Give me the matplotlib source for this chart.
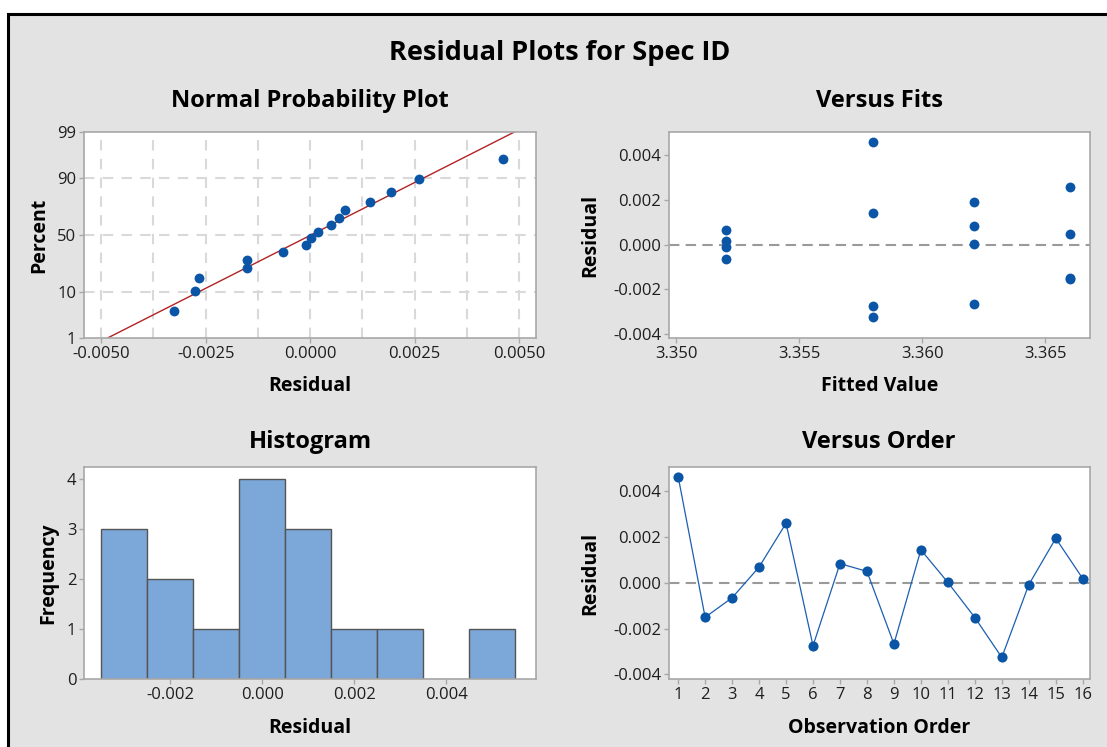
import matplotlib
matplotlib.use("Agg")
import matplotlib.pyplot as plt
from matplotlib.patches import Rectangle
from matplotlib.ticker import FormatStrFormatter
from statistics import NormalDist
import numpy as np

plt.rcParams['font.family'] = ['Open Sans', 'DejaVu Sans']
plt.rcParams['axes.unicode_minus'] = False

# residuals in observation order
residuals = [0.00462, -0.00151, -0.00066, 0.00068, 0.00259, -0.00275, 0.00083, 0.00049,
             -0.00267, 0.00143, 0.00001, -0.00152, -0.00326, -0.00009, 0.00193, 0.00018]
fitted = [3.3580, 3.3660, 3.3520, 3.3520, 3.3660, 3.3580, 3.3621, 3.3660,
          3.3621, 3.3580, 3.3621, 3.3660, 3.3580, 3.3520, 3.3621, 3.3520]
order = list(range(1, 17))
hist_edges = [-0.0035, -0.0025, -0.0015, -0.0005, 0.0005, 0.0015, 0.0025, 0.0035, 0.0045, 0.0055]
pct_ticks = [1, 10, 50, 90, 99]

W, H = 1107, 747
bg = '#e3e3e3'
dot = '#0a55a5'
spine_c = '#a8a8a8'

fig = plt.figure(figsize=(W / 100, H / 100), dpi=100, facecolor='white')
fig.patches.append(Rectangle((8 / W, -0.1), 1.2, 1.1 - 14 / H, transform=fig.transFigure,
                             facecolor=bg, edgecolor='black', linewidth=2.2, zorder=-10))


def box(l, t, r, b):
    return [l / W, 1 - b / H, (r - l) / W, (b - t) / H]


def style(ax):
    for s in ax.spines.values():
        s.set_color(spine_c)
        s.set_linewidth(1.2)
    ax.tick_params(colors=spine_c, labelcolor='#1e1e1e', labelsize=12, length=3.5, width=1, pad=2)


def ptitle(x, y, txt, size=17):
    fig.text(x / W, 1 - y / H, txt, ha='center', va='center', fontsize=size, fontweight='bold')


def labels(ax, xl, yl, xpad=8, ypad=8):
    ax.set_xlabel(xl, fontsize=14, fontweight='bold', labelpad=xpad)
    ax.set_ylabel(yl, fontsize=14, fontweight='bold', labelpad=ypad)


ptitle(560, 53, 'Residual Plots for Spec ID', 19.5)
ptitle(310, 101, 'Normal Probability Plot')
ptitle(879, 101, 'Versus Fits')
ptitle(310, 442, 'Histogram')
ptitle(879, 442, 'Versus Order')

nd = NormalDist()

# Normal probability plot
ax1 = fig.add_axes(box(84, 132, 536, 338))
style(ax1)
r = np.sort(np.array(residuals))
n = len(r)
zpts = [nd.inv_cdf((i - 0.3) / (n + 0.4)) for i in range(1, n + 1)]
mu, sd = np.mean(r), np.std(r, ddof=1)
zlo, zhi = nd.inv_cdf(0.01), nd.inv_cdf(0.99)
for gx in np.arange(-0.005, 0.00501, 0.00125):
    ax1.axvline(gx, color='#d9d9d9', ls=(0, (5, 4)), lw=1.5, zorder=0)
for p in [10, 50, 90]:
    ax1.axhline(nd.inv_cdf(p / 100), color='#d9d9d9', ls=(0, (5, 4)), lw=1.5, zorder=0)
ax1.plot([mu + sd * zlo, mu + sd * zhi], [zlo, zhi], color='#b22222', lw=1)
ax1.scatter(r, zpts, s=50, color=dot, zorder=3, linewidths=0)
ax1.set_ylim(zlo, zhi)
ax1.set_xlim(-0.00541, 0.0054)
ax1.set_yticks([nd.inv_cdf(p / 100) for p in pct_ticks])
ax1.set_yticklabels([str(p) for p in pct_ticks])
ax1.set_xticks([-0.005, -0.0025, 0, 0.0025, 0.005])
ax1.xaxis.set_major_formatter(FormatStrFormatter('%.4f'))
labels(ax1, 'Residual', 'Percent', 10, 6)

# Versus fits
ax2 = fig.add_axes(box(669, 132, 1090, 338))
style(ax2)
ax2.axhline(0, color='#9a9a9a', ls=(0, (5, 3)), lw=1.5, zorder=1)
ax2.scatter(fitted, residuals, s=50, color=dot, zorder=3, linewidths=0)
ax2.set_xlim(3.3497, 3.36683)
ax2.set_ylim(-0.00418, 0.00505)
ax2.set_xticks([3.350, 3.355, 3.360, 3.365])
ax2.set_yticks([-0.004, -0.002, 0, 0.002, 0.004])
ax2.xaxis.set_major_formatter(FormatStrFormatter('%.3f'))
ax2.yaxis.set_major_formatter(FormatStrFormatter('%.3f'))
labels(ax2, 'Fitted Value', 'Residual', 10, 9)

# Histogram
ax3 = fig.add_axes(box(84, 467, 536, 679))
style(ax3)
ax3.hist(residuals, bins=hist_edges, color='#7ba7d9', edgecolor='#555555', linewidth=1, zorder=2)
ax3.set_xlim(-0.00388, 0.00595)
ax3.set_ylim(0, 4.23)
ax3.set_yticks([0, 1, 2, 3, 4])
ax3.set_xticks([-0.002, 0, 0.002, 0.004])
ax3.xaxis.set_major_formatter(FormatStrFormatter('%.3f'))
labels(ax3, 'Residual', 'Frequency', 11, 6)

# Versus order
ax4 = fig.add_axes(box(669, 467, 1090, 679))
style(ax4)
ax4.axhline(0, color='#9a9a9a', ls=(0, (5, 3)), lw=1.5, zorder=1)
ax4.plot(order, residuals, color='#1c5fb0', lw=0.9, marker='o', ms=7.3,
         markerfacecolor=dot, markeredgewidth=0, zorder=3)
ax4.set_xlim(0.66, 16.27)
ax4.set_ylim(-0.0042, 0.00504)
ax4.set_xticks(order)
ax4.set_yticks([-0.004, -0.002, 0, 0.002, 0.004])
ax4.yaxis.set_major_formatter(FormatStrFormatter('%.3f'))
labels(ax4, 'Observation Order', 'Residual', 11, 9)

fig.savefig('out.png', dpi=100, facecolor=fig.get_facecolor())
